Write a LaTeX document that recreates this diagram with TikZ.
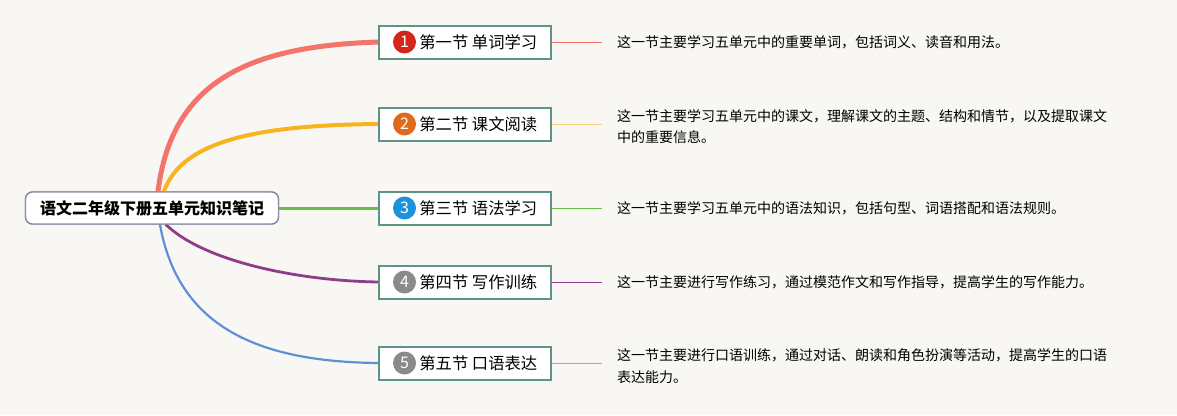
\documentclass[tikz,border=0pt]{standalone}
\usepackage{fontspec}
\setmainfont{Noto Sans CJK SC}
\usepackage{xcolor}
\usetikzlibrary{positioning}
\definecolor{bgc}{HTML}{F8F7F4}
\definecolor{boxc}{HTML}{5E9488}
\definecolor{rootc}{HTML}{8C8CA4}
\definecolor{cred}{HTML}{F4736A}
\definecolor{corange}{HTML}{F9B320}
\definecolor{cgreen}{HTML}{6CBE48}
\definecolor{cpurple}{HTML}{8E3E88}
\definecolor{cblue}{HTML}{5E90D8}
\definecolor{nred}{HTML}{D4261C}
\definecolor{norange}{HTML}{E06A1C}
\definecolor{nblue}{HTML}{1C92DA}
\definecolor{ngrey}{HTML}{8A8A8A}

\begin{document}
\begin{tikzpicture}[x=1pt,y=-1pt,
  rootbox/.style={draw=rootc,line width=1.4pt,rounded corners=7pt,fill=white,minimum width=253,minimum height=32,font=\fontsize{16}{18}\selectfont\bfseries},
  secbox/.style={draw=boxc,line width=2pt,fill=white,minimum width=172,minimum height=33},
  numdot/.style={circle,fill=#1,text=white,inner sep=0pt,minimum size=23,font=\fontsize{16}{16}\selectfont},
  sectext/.style={anchor=west,inner sep=0pt,font=\fontsize{16.3}{18}\selectfont},
  desc/.style={anchor=west,inner sep=0pt,text width=520,align=left,font=\fontsize{14}{21.5}\selectfont},
  branch/.style={line width=#1,line cap=round}]
\useasboundingbox[fill=bgc] (0,0) rectangle (1177,415);

% branches from the root
\node[rootbox] (root) at (152,208) {};
\draw[branch=5pt,cred] ([xshift=6]root.north) .. controls (172,80) and (250,46) .. (379,42) coordinate (e1);
\draw[branch=4pt,corange] ([xshift=12]root.north) .. controls (182,140) and (260,125) .. (379,124) coordinate (e2);
\draw[branch=3pt,cgreen] (root.east) -- (379,208) coordinate (e3);
\draw[branch=2.8pt,cpurple] ([xshift=14]root.south) .. controls (205,262) and (300,281) .. (379,282) coordinate (e4);
\draw[branch=2.2pt,cblue] ([xshift=8]root.south) .. controls (178,325) and (255,362) .. (379,363) coordinate (e5);
\node[rootbox] at (root) {语文二年级下册五单元知识笔记};

% sections
\node[secbox] (s1) at (465,42) {};
\node[secbox] (s2) at (465,124) {};
\node[secbox] (s3) at (465,208) {};
\node[secbox] (s4) at (465,282) {};
\node[secbox] (s5) at (465,363) {};
\node[numdot=nred] (n1) at ([xshift=26.5]s1.west) {1};
\node[numdot=norange] (n2) at ([xshift=26.5]s2.west) {2};
\node[numdot=nblue] (n3) at ([xshift=26.5]s3.west) {3};
\node[numdot=ngrey] (n4) at ([xshift=26.5]s4.west) {4};
\node[numdot=ngrey] (n5) at ([xshift=26.5]s5.west) {5};
\node[sectext,right=3pt of n1] (t1) {第一节 单词学习};
\node[sectext,right=3pt of n2] (t2) {第二节 课文阅读};
\node[sectext,right=3pt of n3] (t3) {第三节 语法学习};
\node[sectext,right=3pt of n4] (t4) {第四节 写作训练};
\node[sectext,right=3pt of n5] (t5) {第五节 口语表达};

% notes
\node[desc] (d1) at (617,42) {这一节主要学习五单元中的重要单词，包括词义、读音和用法。};
\node[desc] (d2) at (617,126.5) {这一节主要学习五单元中的课文，理解课文的主题、结构和情节，以及提取课文\\中的重要信息。};
\node[desc] (d3) at (617,208) {这一节主要学习五单元中的语法知识，包括句型、词语搭配和语法规则。};
\node[desc] (d4) at (617,282) {这一节主要进行写作练习，通过模范作文和写作指导，提高学生的写作能力。};
\node[desc] (d5) at (617,366) {这一节主要进行口语训练，通过对话、朗读和角色扮演等活动，提高学生的口语\\表达能力。};
\draw[cred,line width=0.8pt,shorten >=15pt] (s1.east) -- (s1.east -| d1.west);
\draw[corange!60,line width=0.9pt,shorten >=15pt] (s2.east) -- (s2.east -| d2.west);
\draw[cgreen,line width=0.8pt,shorten >=15pt] (s3.east) -- (s3.east -| d3.west);
\draw[cpurple,line width=0.8pt,shorten >=15pt] (s4.east) -- (s4.east -| d4.west);
\draw[cblue!70,line width=0.9pt,shorten >=15pt] (s5.east) -- (s5.east -| d5.west);
\end{tikzpicture}
\end{document}
